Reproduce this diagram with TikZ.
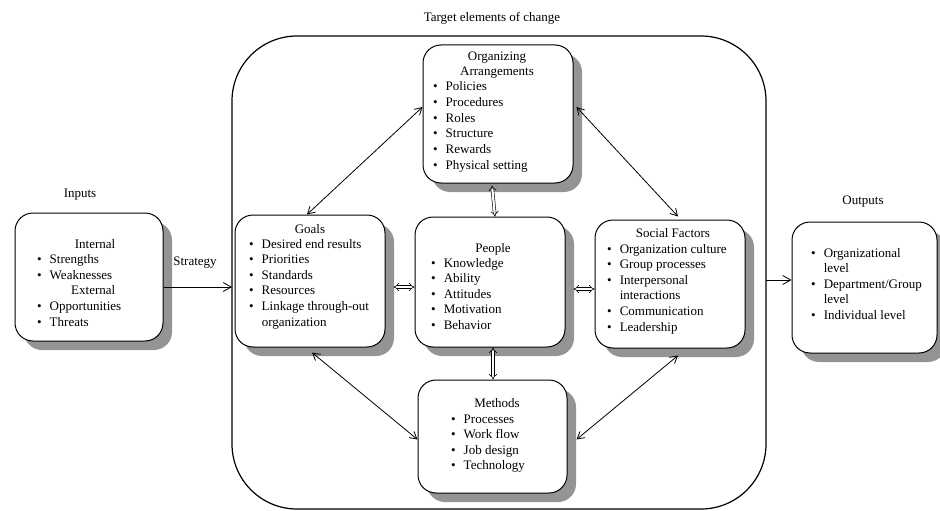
\documentclass[tikz,border=0pt]{standalone}
\usepackage{fontspec}
\setmainfont{Liberation Serif}
\usetikzlibrary{arrows.meta,shadows}
% two-column bullet list: bullet, then item text
\newcommand{\blist}[1]{\begin{tabular}[t]{@{}l@{\hspace{8pt}}l@{}}#1\end{tabular}}
\newcommand{\bul}{\textbullet &}
\begin{document}
\begin{tikzpicture}[x=1pt,y=-1pt,
  txt/.style={inner sep=0pt, font=\fontsize{13}{15.6}\selectfont},
  box/.style={draw=black, line width=1pt, fill=white, rounded corners=18pt, inner sep=0pt,
    drop shadow={shadow xshift=9pt, shadow yshift=-9pt, fill=black!42, opacity=1}},
  link/.style={line width=0.8pt, {Straight Barb[length=7pt,width=8pt]}-{Straight Barb[length=7pt,width=8pt]}},
  dlink/.style={double, double distance=2.2pt, line width=0.6pt, {Implies}-{Implies}},
  flow/.style={line width=0.8pt, -{Straight Barb[length=8pt,width=9pt]}},
]
\useasboundingbox (0,0) rectangle (940,511);

% frame holding the target elements
\node[draw=black, line width=1.2pt, rounded corners=65pt, minimum width=534pt,
      minimum height=473pt, inner sep=0pt] (frame) at (499,272.5) {};

% boxes
\node[box, minimum width=148pt, minimum height=128pt] (inp)  at (89,277) {};
\node[box, minimum width=150pt, minimum height=132pt] (goals) at (310,281) {};
\node[box, minimum width=150pt, minimum height=138pt] (org)  at (498,114) {};
\node[box, minimum width=150pt, minimum height=130pt] (ppl)  at (490,282) {};
\node[box, minimum width=150pt, minimum height=128pt] (soc)  at (670,284) {};
\node[box, minimum width=149pt, minimum height=113pt] (meth) at (492.5,436.5) {};
\node[box, minimum width=145pt, minimum height=131pt] (out)  at (864.5,287.5) {};

% labels outside the boxes
\node[txt, anchor=base] (title)  at (492,22)  {Target elements of change};
\node[txt, anchor=base] (inLbl)  at (80,197)  {Inputs};
\node[txt, anchor=base] (outLbl) at (863,204) {Outputs};
\node[txt, anchor=base] (strat)  at (195,265) {Strategy};

% box contents
\node[txt, anchor=base west] (inpL) at (37,248) {\blist{%
  \multicolumn{2}{r}{Internal}\\ \bul Strengths\\ \bul Weaknesses\\
  \multicolumn{2}{r}{External}\\ \bul Opportunities\\ \bul Threats}};

\node[txt, anchor=base] (goalsT) at (310,233) {Goals};
\node[txt, anchor=base west] (goalsL) at (249,248) {\blist{%
  \bul Desired end results\\ \bul Priorities\\ \bul Standards\\ \bul Resources\\
  \bul Linkage through-out\\ & organization}};

\node[txt, anchor=base] (orgT) at (497,60)
  {\begin{tabular}[t]{@{}c@{}}Organizing\\Arrangements\end{tabular}};
\node[txt, anchor=base west] (orgL) at (433,91) {\blist{%
  \bul Policies\\ \bul Procedures\\ \bul Roles\\ \bul Structure\\ \bul Rewards\\
  \bul Physical setting}};

\node[txt, anchor=base] (pplT) at (493,252) {People};
\node[txt, anchor=base west] (pplL) at (431,267) {\blist{%
  \bul Knowledge\\ \bul Ability\\ \bul Attitudes\\ \bul Motivation\\ \bul Behavior}};

\node[txt, anchor=base] (socT) at (673,237) {Social Factors};
\node[txt, anchor=base west] (socL) at (607,253) {\blist{%
  \bul Organization culture\\ \bul Group processes\\ \bul Interpersonal\\
  & interactions\\ \bul Communication\\ \bul Leadership}};

\node[txt, anchor=base] (methT) at (497,407) {Methods};
\node[txt, anchor=base west] (methL) at (451,423) {\blist{%
  \bul Processes\\ \bul Work flow\\ \bul Job design\\ \bul Technology}};

\node[txt, anchor=base west] (outL) at (811,257) {\blist{%
  \bul Organizational\\ & level\\ \bul Department/Group\\ & level\\
  \bul Individual level}};

% input and output flows
\coordinate (sIn)  at (232,287);
\coordinate (oOut) at (766,280);
\draw[flow] (inp.east |- sIn) -- (sIn);
\draw[flow] (oOut) -- (out.west |- oOut);

% links between target elements
\draw[link] ([xshift=-3pt]goals.north) -- ([yshift=7pt]org.west);
\draw[link] ([xshift=2pt,yshift=-5pt]goals.south) -- ([yshift=-3pt]meth.west);
\draw[link] ([xshift=3pt,yshift=7pt]org.east) -- ([xshift=8pt,yshift=3pt]soc.north);
\draw[link] ([xshift=8pt,yshift=-7pt]soc.south) -- ([xshift=9pt,yshift=-3pt]meth.east);

\draw[dlink] ([xshift=-3pt]org.south -| ppl.north) ++(5pt,-2pt) coordinate (opA)
             -- ([xshift=5pt]ppl.north);
\draw[dlink] ([xshift=3pt]ppl.south) -- ([xshift=3pt]ppl.south |- meth.north);
\draw[dlink] ([xshift=8pt,yshift=-6pt]goals.east) -- ([yshift=-6pt]goals.east -| ppl.west);
\draw[dlink] ([xshift=8pt,yshift=-7pt]ppl.east) -- ([yshift=-7pt]ppl.east -| soc.west);
\end{tikzpicture}
\end{document}
